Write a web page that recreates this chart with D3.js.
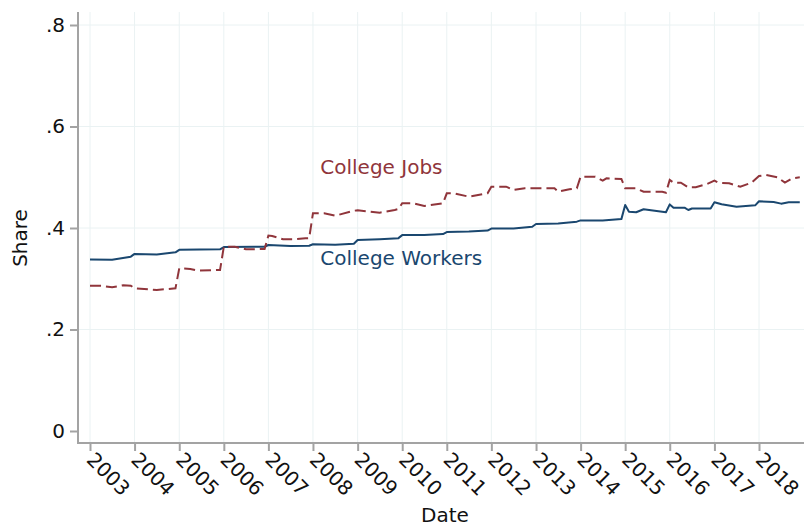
<html>
<head>
	<style>
		body { margin: 0; background: white; }
		text { font-family: "DejaVu Sans", sans-serif; }
	</style>
	<script src="https://d3js.org/d3.v7.min.js"></script>
</head>
<body>
	<script>
		// College Workers (share), monthly readings
		var workerDates = ["2003-01","2003-07","2003-12","2004-01","2004-07","2004-12","2005-01","2005-12",
			"2006-01","2006-12","2007-01","2007-07","2007-12","2008-01","2008-07","2008-12","2009-01","2009-07",
			"2009-12","2010-01","2010-07","2010-12","2011-01","2011-07","2011-12","2012-01","2012-07","2012-12",
			"2013-01","2013-07","2013-12","2014-01","2014-07","2014-12","2015-01","2015-02","2015-04","2015-06",
			"2015-07","2015-10","2015-12","2016-01","2016-02","2016-05","2016-06","2016-07","2016-12","2017-01",
			"2017-03","2017-07","2017-12","2018-01","2018-05","2018-07","2018-09","2018-12"];
		var workerShare = [.338,.3375,.3435,.349,.348,.352,.357,.358,
			.3625,.363,.3665,.3645,.365,.368,.367,.369,.3765,.378,
			.380,.386,.386,.388,.392,.393,.395,.399,.399,.4025,
			.408,.409,.4125,.415,.415,.4175,.4453,.432,.431,.437,
			.436,.433,.431,.4465,.440,.440,.4355,.4385,.4385,.4506,
			.4467,.442,.4447,.4526,.4512,.448,.4506,.4506];

		// College Jobs (share), monthly readings
		var jobDates = ["2003-01","2003-04","2003-07","2003-10","2003-12","2004-01","2004-07","2004-12",
			"2005-01","2005-04","2005-06","2005-11","2005-12","2006-01","2006-04","2006-07","2006-12","2007-01",
			"2007-02","2007-05","2007-08","2007-11","2007-12","2008-01","2008-04","2008-07","2008-12","2009-01",
			"2009-07","2009-11","2009-12","2010-01","2010-04","2010-07","2010-12","2011-01","2011-03","2011-07",
			"2011-12","2012-01","2012-05","2012-07","2012-10","2013-04","2013-06","2013-07","2013-10","2013-12",
			"2014-01","2014-05","2014-07","2014-08","2014-12","2015-01","2015-04","2015-06","2015-08","2015-11",
			"2015-12","2016-01","2016-02","2016-04","2016-06","2016-08","2016-11","2017-01","2017-02","2017-05",
			"2017-08","2017-11","2018-01","2018-03","2018-06","2018-08","2018-10","2018-12"];
		var jobShare = [.2863,.2863,.2832,.2871,.2863,.2812,.2778,.2812,
			.3206,.3192,.3159,.3172,.3172,.3632,.3632,.358,.3586,.385,
			.3842,.3777,.3777,.3797,.380,.429,.429,.4242,.434,.4349,
			.4302,.4355,.4374,.4487,.4487,.4433,.4487,.4684,.4684,.4617,
			.4684,.4814,.4814,.4749,.4782,.4782,.4782,.4715,.4763,.4782,
			.5011,.5011,.4932,.4979,.4966,.4782,.4782,.4715,.4715,.4715,
			.4696,.4946,.4893,.4893,.4802,.4802,.4867,.4932,.4893,.4881,
			.4814,.4893,.5025,.5044,.4999,.4893,.4979,.4999];

		var yTicks  = [0, .2, .4, .6, .8];
		var yLabels = ["0", ".2", ".4", ".6", ".8"];
		var xYears  = d3.range(2003, 2019);

		// series labels: [text, date, share]
		var seriesLabels = [
			{ text: "College Jobs",    date: "2008-03", share: .506, color: "#90353b" },
			{ text: "College Workers", date: "2008-03", share: .327, color: "#1a476f" }
		];

		var parse = d3.timeParse("%Y-%m");
		var width = 804, height = 526;
		var fs = 20;

		var x = d3.scaleTime()
			.domain([new Date(2003, 0, 1), new Date(2018, 0, 1)])
			.range([90, 759]);
		var y = d3.scaleLinear()
			.domain([0, .8])
			.range([431, 25]);

		var svg = d3.select("body").append("svg")
			.attr("width", width)
			.attr("height", height);

		// grid
		svg.append("g").selectAll("line").data(yTicks.slice(1)).enter().append("line")
			.attr("x1", 79).attr("x2", width)
			.attr("y1", function(d) { return y(d); })
			.attr("y2", function(d) { return y(d); })
			.attr("stroke", "#eaf2f3").attr("stroke-width", 1);
		svg.append("g").selectAll("line").data(xYears).enter().append("line")
			.attr("x1", function(d) { return x(new Date(d, 0, 1)); })
			.attr("x2", function(d) { return x(new Date(d, 0, 1)); })
			.attr("y1", 12).attr("y2", 442)
			.attr("stroke", "#eaf2f3").attr("stroke-width", 1);

		// y axis
		var yAxis = svg.append("g")
			.attr("transform", "translate(78,0)")
			.call(d3.axisLeft(y).tickValues(yTicks)
				.tickFormat(function(d, i) { return yLabels[i]; })
				.tickSize(8).tickPadding(5).tickSizeOuter(0));
		yAxis.select(".domain").remove();
		yAxis.append("line").attr("x1", 0).attr("x2", 0).attr("y1", 12).attr("y2", 444);
		yAxis.selectAll("line").attr("stroke", "#a3a3a3").attr("stroke-width", 2);
		yAxis.selectAll("text").attr("font-size", fs).attr("fill", "#111")
			.attr("font-family", "DejaVu Sans");

		// x axis
		var xAxis = svg.append("g")
			.attr("transform", "translate(0,443)")
			.call(d3.axisBottom(x).tickValues(xYears.map(function(d) { return new Date(d, 0, 1); }))
				.tickFormat(d3.timeFormat("%Y"))
				.tickSize(8).tickSizeOuter(0));
		xAxis.select(".domain").remove();
		xAxis.append("line").attr("x1", 77).attr("x2", width).attr("y1", 0).attr("y2", 0);
		xAxis.selectAll("line").attr("stroke", "#a3a3a3").attr("stroke-width", 2);
		xAxis.selectAll(".tick text")
			.attr("font-size", fs).attr("fill", "#111").attr("font-family", "DejaVu Sans")
			.attr("text-anchor", "start")
			.attr("x", 0).attr("y", 0).attr("dy", 0)
			.attr("transform", "translate(-5,18) rotate(45)");

		// axis titles
		svg.append("text")
			.attr("transform", "translate(27,238) rotate(-90)")
			.attr("text-anchor", "middle")
			.attr("font-size", fs).attr("fill", "#111")
			.text("Share");
		svg.append("text")
			.attr("x", 445).attr("y", 522)
			.attr("text-anchor", "middle")
			.attr("font-size", fs).attr("fill", "#111")
			.text("Date");

		// lines
		var line = d3.line()
			.x(function(d) { return x(d[0]); })
			.y(function(d) { return y(d[1]); });

		var workers = workerDates.map(function(d, i) { return [parse(d), workerShare[i]]; });
		var jobs = jobDates.map(function(d, i) { return [parse(d), jobShare[i]]; });

		svg.append("path").datum(workers)
			.attr("fill", "none").attr("stroke", "#1a476f").attr("stroke-width", 2)
			.attr("stroke-linejoin", "round")
			.attr("d", line);
		svg.append("path").datum(jobs)
			.attr("fill", "none").attr("stroke", "#90353b").attr("stroke-width", 2)
			.attr("stroke-dasharray", "11,5")
			.attr("d", line);

		// series labels
		svg.selectAll(".lab").data(seriesLabels).enter().append("text")
			.attr("class", "lab")
			.attr("x", function(d) { return x(parse(d.date)); })
			.attr("y", function(d) { return y(d.share); })
			.attr("font-size", fs)
			.attr("fill", function(d) { return d.color; })
			.text(function(d) { return d.text; });
	</script>
</body>
</html>
